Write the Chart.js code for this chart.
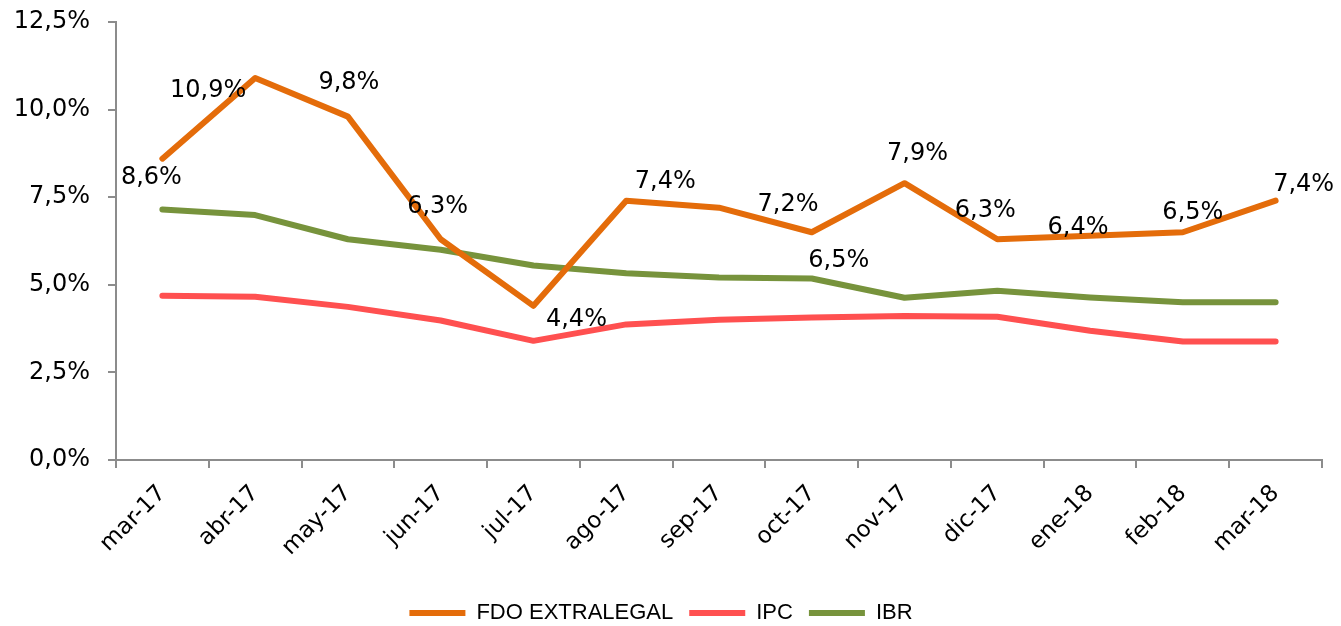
<!DOCTYPE html>
<html>
<head>
<meta charset="utf-8">
<script src="https://cdn.jsdelivr.net/npm/chart.js@4.4.1/dist/chart.umd.min.js"></script>
<style>
  html, body { margin: 0; padding: 0; background: #fff; }
  #wrap { width: 1341px; height: 626px; }
</style>
</head>
<body>
<div id="wrap"><canvas id="chart-rates"></canvas></div>
<script>
// ---------------- datos ----------------
const months = ['mar-17', 'abr-17', 'may-17', 'jun-17', 'jul-17', 'ago-17', 'sep-17',
                'oct-17', 'nov-17', 'dic-17', 'ene-18', 'feb-18', 'mar-18'];
const fdoExtralegal = [8.6, 10.9, 9.8, 6.3, 4.4, 7.4, 7.2, 6.5, 7.9, 6.3, 6.4, 6.5, 7.4];
const ipc = [4.69, 4.66, 4.37, 3.98, 3.40, 3.87, 4.00, 4.07, 4.11, 4.09, 3.69, 3.38, 3.38];
const ibr = [7.15, 6.99, 6.30, 6.00, 5.55, 5.33, 5.21, 5.18, 4.63, 4.83, 4.64, 4.50, 4.50];
const yTicks = [0, 2.5, 5, 7.5, 10, 12.5];

const axisGrey = '#8c8c8c';

function pct(v) {
    return v.toFixed(1).replace('.', ',') + '%';
}

// etiquetas de la serie FDO, desplazadas como en el original
const fdoLabels = {
    id: 'fdoLabels',
    afterDatasetsDraw(chart) {
        const shift = [[-11, 17], [-47, 11], [1, -36], [-3, -34], [43, 12], [39, -21], [69, -5],
                       [27, 27], [13, -31], [-12, -30], [-12, -10], [10, -21], [28, -18]];
        const ctx = chart.ctx;
        const meta = chart.getDatasetMeta(0);
        ctx.save();
        ctx.font = '24px "DejaVu Sans"';
        ctx.fillStyle = '#000';
        ctx.textAlign = 'center';
        ctx.textBaseline = 'middle';
        meta.data.forEach((pt, i) => {
            ctx.fillText(pct(fdoExtralegal[i]), pt.x + shift[i][0], pt.y + shift[i][1] + 2);
        });
        ctx.restore();
    }
};

function lineSet(label, data, color) {
    return {
        label: label,
        data: data,
        borderColor: color,
        backgroundColor: color,
        borderWidth: 6,
        borderCapStyle: 'round',
        borderJoinStyle: 'round',
        pointRadius: 0,
        pointHoverRadius: 0,
        tension: 0,
        fill: false
    };
}

var ctx = document.getElementById('chart-rates').getContext('2d');
var chart_rates = new Chart(ctx, {
    type: 'line',
    data: {
        labels: months,
        datasets: [
            lineSet('FDO EXTRALEGAL', fdoExtralegal, '#e46c0a'),
            lineSet('IPC', ipc, '#ff5050'),
            lineSet('IBR', ibr, '#77933c')
        ]
    },
    options: {
        responsive: true,
        maintainAspectRatio: false,
        animation: false,
        layout: { padding: { top: 22, right: 19, left: 0, bottom: -8 } },
        plugins: {
            tooltip: { enabled: false },
            legend: {
                position: 'bottom',
                labels: {
                    usePointStyle: true,
                    pointStyle: 'line',
                    pointStyleWidth: 56,
                    boxHeight: 6,
                    padding: 16,
                    color: '#000',
                    font: { family: 'Liberation Sans', size: 22 }
                }
            }
        },
        scales: {
            x: {
                offset: true,
                afterFit: (scale) => { scale.height = 126; },
                grid: { drawOnChartArea: false, offset: true, tickLength: 8, color: axisGrey, lineWidth: 2 },
                border: { color: axisGrey, width: 2 },
                ticks: {
                    autoSkip: false,
                    maxRotation: 45,
                    minRotation: 45,
                    padding: 12,
                    color: '#000',
                    font: { family: 'DejaVu Sans', size: 23 }
                }
            },
            y: {
                min: 0,
                max: 12.5,
                afterFit: (scale) => {
                    scale.width = 116;
                    scale.paddingTop = 0;
                    scale.paddingBottom = 0;
                },
                afterBuildTicks: (scale) => { scale.ticks = yTicks.map(v => ({ value: v })); },
                grid: { drawOnChartArea: false, tickLength: 8, color: axisGrey, lineWidth: 2 },
                border: { color: axisGrey, width: 2 },
                ticks: {
                    padding: 18,
                    color: '#000',
                    font: { family: 'DejaVu Sans', size: 24 },
                    callback: (v) => pct(v)
                }
            }
        }
    },
    plugins: [fdoLabels]
});
</script>
</body>
</html>
